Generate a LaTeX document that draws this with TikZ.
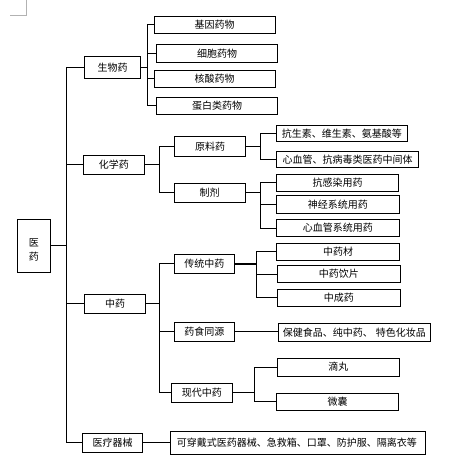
\documentclass[tikz,border=0pt]{standalone}
\usepackage{fontspec}
\newfontfamily\cjk{Noto Sans CJK SC}
\tikzset{
  box/.style={draw, line width=0.9pt, inner sep=0pt, font=\cjk\fontsize{10}{14}\selectfont},
  link/.style={line width=0.9pt},
  thicklink/.style={line width=2pt},
  cropmark/.style={draw=black!30, line width=0.8pt}
}
\newcommand\bx[7][]{\node[box, minimum width={#5-#3}, minimum height={#6-#4}, #1] (#2) at ({(#3+#5)/2},{(#4+#6)/2}) {#7};}
\begin{document}
\begin{tikzpicture}[x=1pt,y=-1pt]
\useasboundingbox (0,0) rectangle (456,469);
\fill[white] (0,0) rectangle (456,469);
% page corner mark
\draw[cropmark] (10,15.7) -- (26.3,15.7) -- (26.3,0);
% boxes
\bx{yiyao}{17.3}{219.3}{50.3}{272}{\raisebox{-14.6pt}[0pt][0pt]{\vbox{\hbox{医}\hbox{药}}}}
\bx{shengwu}{84.7}{56.3}{140.7}{78.7}{生物药}
\bx{huaxue}{83.3}{155}{144.3}{174.3}{化学药}
\bx{zhongyao}{84.7}{294.3}{145.3}{313.3}{中药}
\bx{yiliao}{82.3}{433.3}{142.7}{452.3}{医疗器械}
\bx{jiyin}{154.3}{16}{275}{33.3}{基因药物}
\bx{xibao}{156.3}{44.3}{277.7}{62.3}{细胞药物}
\bx{hesuan}{154.3}{70.3}{275}{87.3}{核酸药物}
\bx{danbai}{156.3}{97.3}{277.7}{114.3}{蛋白类药物}
\bx{yuanliao}{174.3}{136.7}{245.7}{156}{原料药}
\bx{zhiji}{174.3}{183}{245}{202}{制剂}
\bx{kss}{276.3}{125.3}{407.3}{141.3}{抗生素、维生素、氨基酸等}
\bx{xxg}{276.3}{151.3}{418.7}{167.3}{心血管、抗病毒类医药中间体}
\bx{kgr}{276.3}{174.3}{398.7}{191}{抗感染用药}
\bx{sj}{276.3}{195.3}{399.3}{213.3}{神经系统用药}
\bx{xxgx}{276.3}{219.3}{399.3}{236.7}{心血管系统用药}
\bx{ct}{174.3}{254.3}{234.3}{273.3}{传统中药}
\bx{ysty}{174.3}{322.3}{234.3}{341}{药食同源}
\bx{xd}{171.3}{383.3}{232.3}{402}{现代中药}
\bx{zyc}{276.3}{243}{399.7}{260}{中药材}
\bx{zyyp}{277.3}{265.3}{400.3}{282.7}{中药饮片}
\bx{zcy}{277.3}{289}{400.3}{306.3}{中成药}
\bx{bj}{278.7}{323.7}{430}{341.7}{保健食品、纯中药、\hspace{3pt}特色化妆品}
\bx{dw}{277.3}{358.3}{399.3}{376}{滴丸}
\bx{wn}{276.3}{393.3}{398.7}{410.3}{微囊}
\bx[text width=242pt, inner xsep=6.4pt, align=left]{kcd}{170.3}{431}{425.3}{454.3}{可穿戴式医药器械、急救箱、口罩、防护服、隔离衣等}
% junctions
\coordinate (t) at (66.7,0 |- yiyao.east);
\coordinate (j1) at (147.3,0 |- shengwu.east);
\coordinate (j2) at (159.3,0 |- huaxue.east);
\coordinate (j3) at (260.7,0 |- yuanliao.east);
\coordinate (j4) at (260.7,0 |- zhiji.east);
\coordinate (j5) at (159.3,0 |- zhongyao.east);
\coordinate (j6) at (256.3,0 |- ct.east);
\coordinate (j7) at (254.3,0 |- xd.east);
% connectors
\draw[link] (yiyao.east) -- (t);
\foreach \c in {shengwu,huaxue,zhongyao,yiliao} \draw[link] (t) |- (\c.west);
\draw[link] (shengwu.east) -- (j1);
\foreach \c in {jiyin,xibao,hesuan,danbai} \draw[link] (j1) |- (\c.west);
\draw[link] (huaxue.east) -- (j2);
\foreach \c in {yuanliao,zhiji} \draw[link] (j2) |- (\c.west);
\draw[link] (yuanliao.east) -- (j3);
\foreach \c in {kss,xxg} \draw[link] (j3) |- (\c.west);
\draw[link] (zhiji.east) -- (j4);
\foreach \c in {kgr,sj,xxgx} \draw[link] (j4) |- (\c.west);
\draw[link] (zhongyao.east) -- (j5);
\foreach \c in {ct,ysty,xd} \draw[link] (j5) |- (\c.west);
\draw[thicklink] (ct.east) -- (j6);
\foreach \c in {zyc,zyyp,zcy} \draw[link] (j6) |- (\c.west);
\draw[link] (ysty.east) -- (ysty.east -| bj.west);
\draw[link] (xd.east) -- (j7);
\foreach \c in {dw,wn} \draw[link] (j7) |- (\c.west);
\draw[link] (yiliao.east) -- (yiliao.east -| kcd.west);
\end{tikzpicture}
\end{document}
